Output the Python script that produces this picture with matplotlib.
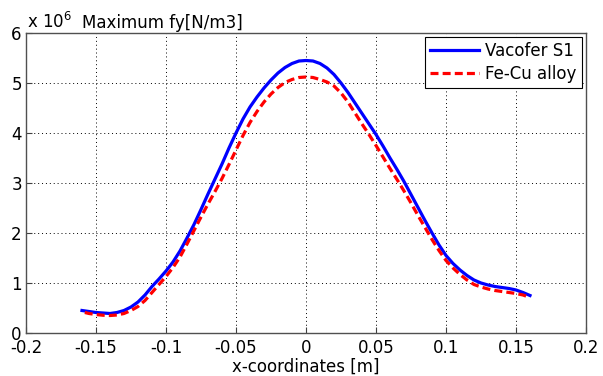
import numpy as np
import matplotlib
matplotlib.use('Agg')
import matplotlib.pyplot as plt

# values (x in m, fy in 1e6 N/m3)
x_vac = [-0.160, -0.155, -0.150, -0.145, -0.140, -0.135, -0.130, -0.125, -0.120,
         -0.115, -0.110, -0.105, -0.100, -0.095, -0.090, -0.085, -0.080, -0.075,
         -0.070, -0.065, -0.060, -0.055, -0.050, -0.045, -0.040, -0.035, -0.030,
         -0.025, -0.020, -0.015, -0.010, -0.005, 0.000, 0.005, 0.010, 0.015,
         0.020, 0.025, 0.030, 0.035, 0.040, 0.045, 0.050, 0.055, 0.060,
         0.065, 0.070, 0.075, 0.080, 0.085, 0.090, 0.095, 0.100, 0.105,
         0.110, 0.115, 0.120, 0.125, 0.130, 0.135, 0.140, 0.145, 0.150,
         0.155, 0.160]
fy_vac = [0.45, 0.43, 0.41, 0.40, 0.39, 0.41, 0.45, 0.52, 0.62,
          0.76, 0.93, 1.08, 1.24, 1.42, 1.64, 1.90, 2.17, 2.47,
          2.78, 3.08, 3.38, 3.70, 4.00, 4.28, 4.52, 4.72, 4.90,
          5.06, 5.20, 5.31, 5.39, 5.44, 5.45, 5.44, 5.39, 5.30,
          5.17, 5.00, 4.81, 4.60, 4.39, 4.18, 3.97, 3.74, 3.50,
          3.27, 3.03, 2.77, 2.51, 2.25, 2.00, 1.76, 1.55, 1.39,
          1.26, 1.15, 1.06, 1.00, 0.96, 0.93, 0.91, 0.89, 0.86,
          0.81, 0.75]

x_fecu = [-0.158, -0.155, -0.150, -0.145, -0.140, -0.135, -0.130, -0.125, -0.120,
          -0.115, -0.110, -0.105, -0.100, -0.095, -0.090, -0.085, -0.080, -0.075,
          -0.070, -0.065, -0.060, -0.055, -0.050, -0.045, -0.040, -0.035, -0.030,
          -0.025, -0.020, -0.015, -0.010, -0.005, 0.000, 0.005, 0.010, 0.015,
          0.020, 0.025, 0.030, 0.035, 0.040, 0.045, 0.050, 0.055, 0.060,
          0.065, 0.070, 0.075, 0.080, 0.085, 0.090, 0.095, 0.100, 0.105,
          0.110, 0.115, 0.120, 0.125, 0.130, 0.135, 0.140, 0.145, 0.150,
          0.155, 0.158]
fy_fecu = [0.41, 0.39, 0.37, 0.355, 0.35, 0.36, 0.39, 0.45, 0.53,
           0.65, 0.81, 0.97, 1.13, 1.31, 1.52, 1.78, 2.05, 2.32,
           2.58, 2.83, 3.09, 3.37, 3.66, 3.95, 4.21, 4.43, 4.62,
           4.78, 4.91, 5.01, 5.07, 5.11, 5.12, 5.11, 5.07, 5.02,
           4.94, 4.80, 4.62, 4.40, 4.18, 3.97, 3.75, 3.52, 3.29,
           3.07, 2.84, 2.60, 2.35, 2.11, 1.87, 1.65, 1.45, 1.30,
           1.17, 1.06, 0.97, 0.92, 0.88, 0.85, 0.83, 0.81, 0.79,
           0.76, 0.73]

plt.rcParams['font.family'] = 'DejaVu Sans'
plt.rcParams['font.size'] = 12

W, H = 603, 376
fig = plt.figure(figsize=(W / 100, H / 100), dpi=100)
ax = fig.add_axes([26 / W, 1 - 333 / H, 560 / W, 300 / H])

ax.plot(x_vac, fy_vac, color='#0000ff', lw=2.3, label='Vacofer S1')
ax.plot(x_fecu, fy_fecu, color='#ff0000', lw=2.3, ls=(0, (2.5, 1.3)), label='Fe-Cu alloy')

ax.set_xlim(-0.2, 0.2)
ax.set_ylim(0, 6)
ax.set_xticks(np.arange(-0.2, 0.201, 0.05))
ax.set_xticklabels(['-0.2', '-0.15', '-0.1', '-0.05', '0', '0.05', '0.1', '0.15', '0.2'])
ax.set_yticks(range(7))
ax.grid(True, color='black', ls=(0, (1, 3)), lw=0.7)
ax.tick_params(direction='in', length=4, width=0.8, color='#404040')
ax.tick_params(axis='x', pad=4)
ax.tick_params(axis='y', pad=3)
for s in ax.spines.values():
    s.set_color('#505050')
    s.set_linewidth(1.0)

ax.set_xlabel('x-coordinates [m]', labelpad=1)

fig.text(27 / W, 1 - 28 / H, r'x 10$^{6}$', va='baseline', ha='left')
fig.text(82 / W, 1 - 28 / H, 'Maximum fy[N/m3]', va='baseline', ha='left')

leg = ax.legend(loc='upper right', fancybox=False, framealpha=1, edgecolor='black',
                borderaxespad=0.25, handlelength=2.9, handletextpad=0.4,
                borderpad=0.3, labelspacing=0.3)
leg.get_frame().set_linewidth(0.8)

fig.savefig('out.png', dpi=100)
